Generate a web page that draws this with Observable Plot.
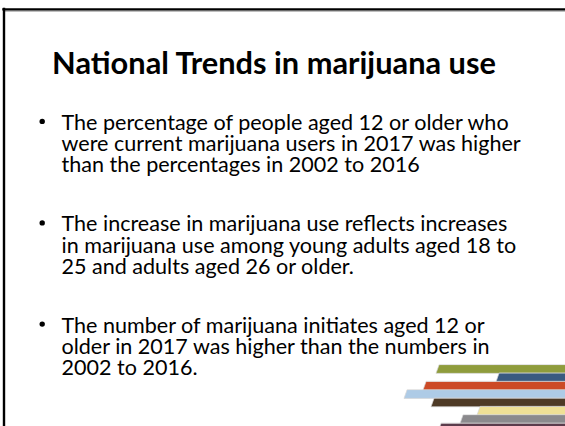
<!DOCTYPE html>
<html>
<head>
<meta charset="utf-8">
<script src="https://cdn.jsdelivr.net/npm/d3@7"></script>
<script src="https://cdn.jsdelivr.net/npm/@observablehq/plot@0.6"></script>
<style>
  html, body { margin: 0; padding: 0; background: #fff; }
  #chart svg { display: block; }
</style>
</head>
<body>
<div id="chart"></div>
<script>
// ---- content ----
const title = "National Trends in marijuana use";
const bullet1 = [
  "The percentage of people aged 12 or older who",
  "were current marijuana users in 2017 was higher",
  "than the percentages in 2002 to 2016"
];
const bullet2 = [
  "The increase in marijuana use reflects increases",
  "in marijuana use among young adults aged 18 to",
  "25 and adults aged 26 or older."
];
const bullet3 = [
  "The number of marijuana initiates aged 12 or",
  "older in 2017 was higher than the numbers in",
  "2002 to 2016."
];
// decorative stripes (bottom-right corner)
const stripeColors = ["#8f9c3c", "#3a5a80", "#cc4a26", "#aecbe6", "#4e3a26", "#efe096", "#8b8a8d", "#5c3c4c"];
const stripeStart  = [439, 499, 426, 407, 434, 480, 463, 441];

// ---- layout ----
const W = 565, H = 426;
const family = "Lato, 'Open Sans', sans-serif";
const ctx = document.createElement("canvas").getContext("2d");
function fitSize(text, weight, target) {
  ctx.font = `${weight} 100px ${family}`;
  return 100 * target / ctx.measureText(text).width;
}
const titleSize = fitSize(title, "bold", 445);
const bodySize = fitSize(bullet1[0], "normal", 449);

const textX = 61, bulletX = 41.7, lineGap = 21.3;
const firstBaselines = [129.3, 230.8, 332];
const bullets = [bullet1, bullet2, bullet3].map((lines, b) => ({
  t: lines.join("\n"),
  y: firstBaselines[b] + (lines.length - 1) * lineGap, // baseline of last line
  dotY: firstBaselines[b] - 8.4
}));

const stripeH = 8.35, stripeTop = 365, slant = 3;
const stripePts = [];
stripeColors.forEach((c, i) => {
  const y0 = stripeTop + i * stripeH, y1 = y0 + stripeH;
  stripePts.push({k: i, c, y: y0, x1: stripeStart[i], x2: W + 5});
  stripePts.push({k: i, c, y: y1, x1: stripeStart[i] - slant, x2: W + 5});
});

const chart = Plot.plot({
  width: W,
  height: H,
  margin: 0,
  x: {domain: [0, W], range: [0, W], axis: null},
  y: {domain: [0, H], range: [0, H], axis: null},
  marks: [
    // slide frame (top and left edges visible)
    Plot.ruleY([10.7], {x1: 4.7, x2: W, stroke: "#a8a8a8", strokeWidth: 1.3}),
    Plot.ruleY([8.85], {x1: 2.3, x2: W, stroke: "#000", strokeWidth: 2.4}),
    Plot.ruleX([3.5], {y1: 7.7, y2: H, stroke: "#000", strokeWidth: 2.4}),
    // title
    Plot.text([title], {
      x: W / 2 - 9, y: 73.3, text: d => d, lineAnchor: "bottom", textAnchor: "middle",
      fontFamily: family, fontWeight: "bold", fontSize: titleSize, fill: "#000"
    }),
    // bullet markers
    Plot.dot(bullets, {x: bulletX, y: "dotY", r: 2.7, fill: "#000", stroke: null}),
    // bullet text (one multi-line block per bullet)
    Plot.text(bullets, {
      x: textX, y: "y", text: "t", lineAnchor: "bottom", textAnchor: "start",
      lineHeight: lineGap / bodySize,
      fontFamily: family, fontSize: bodySize, fill: "#000"
    }),
    // decorative stripes
    Plot.areaX(stripePts, {
      y: "y", x1: "x1", x2: "x2", z: "k", fill: "c",
      stroke: "#d6d6d6", strokeWidth: 0.7, curve: "linear"
    })
  ]
});
document.getElementById("chart").append(chart);
</script>
</body>
</html>
